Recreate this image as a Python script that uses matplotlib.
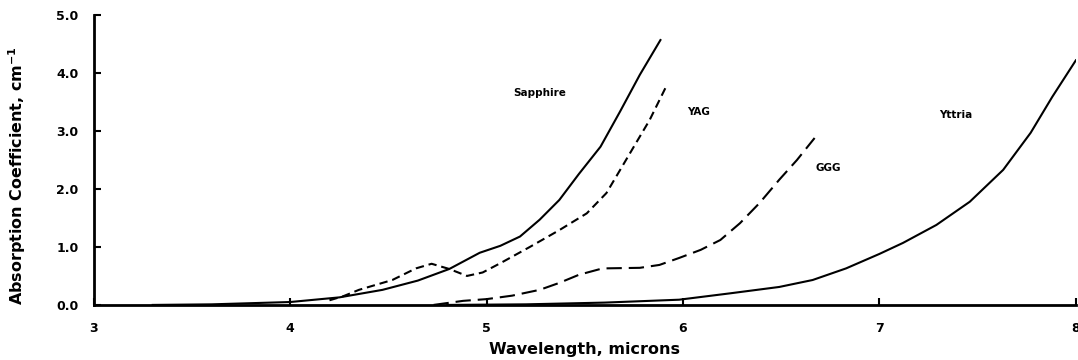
import matplotlib.pyplot as plt

plt.rcParams['font.family'] = ['DejaVu Sans']
plt.rcParams['font.weight'] = 'bold'
plt.rcParams['lines.scale_dashes'] = False

# wavelength (microns) / absorption (cm^-1)
sapphireX = [3.3, 3.6, 3.8, 4.0, 4.25, 4.47, 4.65, 4.81, 4.965, 5.07, 5.17, 5.27,
             5.37, 5.47, 5.58, 5.68, 5.78, 5.885]
sapphireY = [0.0, 0.01, 0.03, 0.05, 0.13, 0.26, 0.42, 0.62, 0.9, 1.02, 1.18, 1.47,
             1.81, 2.26, 2.73, 3.34, 3.97, 4.57]

yagX = [4.2, 4.27, 4.35, 4.52, 4.64, 4.72, 4.81, 4.9, 4.98, 5.07, 5.22, 5.37,
        5.51, 5.61, 5.68, 5.76, 5.83, 5.91]
yagY = [0.08, 0.15, 0.26, 0.43, 0.63, 0.71, 0.62, 0.5, 0.56, 0.72, 1.0, 1.29,
        1.58, 1.93, 2.33, 2.79, 3.19, 3.74]

gggX = [4.73, 4.88, 5.0, 5.13, 5.27, 5.37, 5.47, 5.59, 5.78, 5.88, 5.98, 6.09,
        6.19, 6.29, 6.39, 6.49, 6.58, 6.67]
gggY = [0.0, 0.07, 0.1, 0.16, 0.26, 0.38, 0.52, 0.63, 0.64, 0.69, 0.81, 0.95,
        1.12, 1.41, 1.76, 2.16, 2.5, 2.88]

yttriaX = [4.8, 5.2, 5.6, 5.98, 6.24, 6.49, 6.66, 6.83, 7.0, 7.12, 7.29, 7.46,
           7.63, 7.77, 7.88, 8.0]
yttriaY = [0.0, 0.01, 0.04, 0.09, 0.2, 0.31, 0.43, 0.63, 0.88, 1.07, 1.38, 1.78,
           2.33, 2.97, 3.59, 4.22]

labels = ["Sapphire", "YAG", "GGG", "Yttria"]
labelX = [5.27, 6.08, 6.74, 7.39]
labelY = [3.66, 3.33, 2.36, 3.28]

fig = plt.figure(figsize=(10.78, 3.6), dpi=100)
ax = fig.add_axes([0.087, 0.153, 0.911, 0.805])

ax.plot(sapphireX, sapphireY, color="black", lw=1.5)
ax.plot(yagX, yagY, color="black", lw=1.5, dashes=(6, 3.5))
ax.plot(gggX, gggY, color="black", lw=1.5, dashes=(11, 5))
ax.plot(yttriaX, yttriaY, color="black", lw=1.5)

for name, x, y in zip(labels, labelX, labelY):
    ax.text(x, y, name, fontsize=7.5, fontweight="bold", ha="center", va="center")

ax.set_xlim(3, 8)
ax.set_ylim(0, 5)
ax.set_xticks([3, 4, 5, 6, 7, 8])
ax.set_yticks([0, 1, 2, 3, 4, 5])
ax.set_yticklabels(["%.1f" % v for v in [0, 1, 2, 3, 4, 5]])
ax.tick_params(direction="in", length=5, width=1.5, labelsize=9)
ax.tick_params(axis="x", pad=12)
ax.tick_params(axis="y", pad=11)
for s in ["top", "right"]:
    ax.spines[s].set_visible(False)
for s in ["left", "bottom"]:
    ax.spines[s].set_linewidth(2)

ax.set_xlabel("Wavelength, microns", fontsize=11.5, fontweight="bold", labelpad=5)
ax.set_ylabel(r"Absorption Coefficient, cm$^{\mathbf{-1}}$", fontsize=11.5, fontweight="bold")
ax.yaxis.set_label_coords(-0.067, 0.445)

fig.savefig("out.png", dpi=100)
